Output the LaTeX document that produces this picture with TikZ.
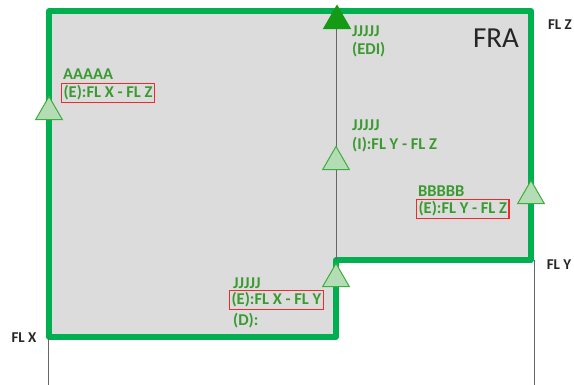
\documentclass[tikz,border=0pt]{standalone}
\usepackage{fontspec}
\setmainfont{Carlito}
\usetikzlibrary{shapes.geometric}
\definecolor{wallgreen}{HTML}{00B050}
\definecolor{txtgreen}{HTML}{3A9A30}
\definecolor{trifill}{HTML}{B5DDB5}
\definecolor{triline}{HTML}{3CAE3C}
\definecolor{topgreen}{HTML}{149A14}
\definecolor{boxred}{HTML}{EE2A2A}
\definecolor{roomgray}{HTML}{DCDCDC}
\tikzset{
  wall/.style={draw=wallgreen, line width=5.5pt, line join=round, fill=roomgray},
  grid/.style={draw=black!60, line width=0.6pt},
  tri/.style={regular polygon, regular polygon sides=3, minimum size=31pt, inner sep=0pt, draw=triline, line width=1pt, fill=trifill},
  toptri/.style={tri, draw=topgreen, fill=topgreen},
  lbl/.style={anchor=west, inner sep=0pt, text=txtgreen, font=\bfseries\fontsize{16.5}{18}\selectfont},
  boxed/.style={lbl, draw=boxred, line width=1.2pt, inner xsep=2pt, inner ysep=2.5pt},
  axis/.style={inner sep=0pt, font=\bfseries\fontsize{15}{17}\selectfont, text=black!85}
}
\begin{document}
\begin{tikzpicture}[x=1pt,y=-1pt]
\useasboundingbox (0,0) rectangle (574,385);
% room outline
\coordinate (c1) at (49,11);
\coordinate (c2) at (531,11);
\coordinate (c3) at (531,260);
\coordinate (c4) at (336,260);
\coordinate (c5) at (336,337);
\coordinate (c6) at (49,337);
\draw[wall] (c1) -- (c2) -- (c3) -- (c4) -- (c5) -- (c6) -- cycle;
% grid lines
\coordinate (g1t) at (48,337);
\coordinate (g1b) at (48,385);
\coordinate (g2t) at (336,11);
\coordinate (g2b) at (336,260);
\coordinate (g3t) at (534,260);
\coordinate (g3b) at (534,385);
\draw[grid] (g1t) -- (g1b);
\draw[grid] (g2t) -- (g2b);
\draw[grid] (g3t) -- (g3b);
% triangles
\node[tri] (tA) at (49,112) {};
\node[toptri] (tTop) at (337,21) {};
\node[tri] (tI) at (336,162) {};
\node[tri] (tB) at (531,196) {};
\node[tri] (tD) at (336,279) {};
% labels
\node[lbl] (aT) at (63,74) {AAAAA};
\node[boxed] (aB) at (61,93) {(E):FL X - FL Z};
\node[lbl] (eT) at (352,31) {JJJJJ};
\node[lbl] (eB) at (352,50) {(EDI)};
\node[lbl] (iT) at (352,125) {JJJJJ};
\node[lbl] (iB) at (352,145) {(I):FL Y - FL Z};
\node[lbl] (bT) at (418,191) {BBBBB};
\node[boxed] (bB) at (416,209) {(E):FL Y - FL Z};
\node[lbl] (dT) at (233,283) {JJJJJ};
\node[boxed] (dB) at (229,300) {(E):FL X - FL Y};
\node[lbl] (dC) at (233,321) {(D):};
\node[anchor=center, inner sep=0pt, font=\fontsize{29}{32}\selectfont, text=black!85] (fra) at (496,38) {FRA};
\node[axis] (flz) at (560,25) {FL Z};
\node[axis] (fly) at (559,265) {FL Y};
\node[axis] (flx) at (24,338) {FL X};
\end{tikzpicture}
\end{document}
